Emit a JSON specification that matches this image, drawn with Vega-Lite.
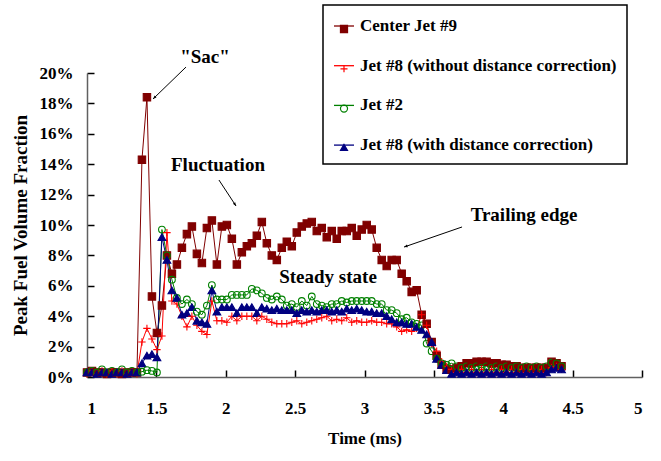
{
  "$schema": "https://vega.github.io/schema/vega-lite/v6.json",
  "width": 555,
  "height": 304,
  "autosize": {"type": "none"},
  "padding": {"left": 87, "top": 73, "right": 19, "bottom": 84},
  "background": "white",
  "config": {
    "font": "Liberation Serif",
    "view": {"stroke": null},
    "axis": {
      "grid": false,
      "ticks": true,
      "labelOverlap": false,
      "labelFont": "Liberation Serif",
      "labelFontSize": 17,
      "labelFontWeight": "bold",
      "labelColor": "black",
      "titleFont": "Liberation Serif",
      "titleFontSize": 17,
      "titleFontWeight": "bold",
      "titleColor": "black",
      "domainColor": "#606060",
      "domainWidth": 1.5,
      "tickColor": "black",
      "tickWidth": 1.5,
      "tickOpacity": 1
    },
    "axisX": {"titlePadding": 14, "labelOverlap": false},
    "axisY": {"titlePadding": 9, "titleFontSize": 19, "labelOverlap": false}
  },
  "datasets": {
    "jets": [
      {"t": 1.000, "C": 0.3, "R": 0.2, "G": 0.3, "B": 0.3},
      {"t": 1.036, "C": 0.4, "R": 0.4, "G": 0.4, "B": 0.3},
      {"t": 1.072, "C": 0.3, "R": 0.2, "G": 0.3, "B": 0.2},
      {"t": 1.108, "C": 0.3, "R": 0.4, "G": 0.5, "B": 0.3},
      {"t": 1.144, "C": 0.2, "R": 0.2, "G": 0.3, "B": 0.3},
      {"t": 1.180, "C": 0.3, "R": 0.4, "G": 0.4, "B": 0.2},
      {"t": 1.216, "C": 0.3, "R": 0.2, "G": 0.3, "B": 0.3},
      {"t": 1.252, "C": 0.2, "R": 0.4, "G": 0.5, "B": 0.3},
      {"t": 1.288, "C": 0.3, "R": 0.2, "G": 0.3, "B": 0.2},
      {"t": 1.324, "C": 0.3, "R": 0.4, "G": 0.4, "B": 0.3},
      {"t": 1.360, "C": 0.3, "R": 0.2, "G": 0.3, "B": 0.3},
      {"t": 1.396, "C": 14.3, "R": 2.3, "G": 0.35, "B": 0.9},
      {"t": 1.432, "C": 18.4, "R": 3.2, "G": 0.45, "B": 1.4},
      {"t": 1.468, "C": 5.3, "R": 2.5, "G": 0.4, "B": 1.5},
      {"t": 1.504, "C": 2.9, "R": 1.8, "G": 0.3, "B": 1.3},
      {"t": 1.540, "C": 4.7, "R": 2.7, "G": 9.7, "B": 9.2},
      {"t": 1.576, "C": 8.0, "R": 9.5, "G": 8.0, "B": 7.7},
      {"t": 1.612, "C": 6.8, "R": 5.0, "G": 6.4, "B": 5.7},
      {"t": 1.648, "C": 7.4, "R": 4.8, "G": 5.2, "B": 5.2},
      {"t": 1.684, "C": 8.5, "R": 4.0, "G": 4.8, "B": 4.1},
      {"t": 1.720, "C": 9.4, "R": 3.3, "G": 5.1, "B": 4.2},
      {"t": 1.756, "C": 9.9, "R": 4.0, "G": 4.8, "B": 4.6},
      {"t": 1.792, "C": 8.1, "R": 3.4, "G": 4.3, "B": 3.7},
      {"t": 1.828, "C": 7.5, "R": 3.0, "G": 4.1, "B": 3.6},
      {"t": 1.864, "C": 9.8, "R": 2.8, "G": 4.7, "B": 3.5},
      {"t": 1.900, "C": 10.3, "R": 5.0, "G": 6.05, "B": 5.7},
      {"t": 1.936, "C": 7.4, "R": 3.7, "G": 5.1, "B": 4.3},
      {"t": 1.972, "C": 9.9, "R": 3.7, "G": 5.1, "B": 4.6},
      {"t": 2.008, "C": 10.0, "R": 3.6, "G": 5.1, "B": 4.6},
      {"t": 2.044, "C": 9.1, "R": 4.0, "G": 5.4, "B": 4.6},
      {"t": 2.080, "C": 7.4, "R": 3.7, "G": 5.4, "B": 4.2},
      {"t": 2.116, "C": 8.2, "R": 4.0, "G": 5.4, "B": 4.6},
      {"t": 2.152, "C": 8.6, "R": 4.0, "G": 5.4, "B": 4.6},
      {"t": 2.188, "C": 8.8, "R": 4.0, "G": 5.8, "B": 4.6},
      {"t": 2.224, "C": 9.3, "R": 3.7, "G": 5.7, "B": 4.2},
      {"t": 2.260, "C": 10.2, "R": 4.0, "G": 5.5, "B": 4.6},
      {"t": 2.296, "C": 8.8, "R": 3.8, "G": 5.2, "B": 4.5},
      {"t": 2.332, "C": 8.0, "R": 3.6, "G": 5.1, "B": 4.4},
      {"t": 2.368, "C": 7.7, "R": 3.5, "G": 5.3, "B": 4.5},
      {"t": 2.404, "C": 8.5, "R": 3.5, "G": 5.1, "B": 4.4},
      {"t": 2.440, "C": 8.9, "R": 3.5, "G": 4.7, "B": 4.4},
      {"t": 2.476, "C": 8.6, "R": 3.6, "G": 4.8, "B": 4.4},
      {"t": 2.512, "C": 9.5, "R": 3.7, "G": 4.6, "B": 4.2},
      {"t": 2.548, "C": 9.9, "R": 3.5, "G": 5.0, "B": 4.4},
      {"t": 2.584, "C": 10.1, "R": 3.6, "G": 4.7, "B": 4.3},
      {"t": 2.620, "C": 10.2, "R": 3.7, "G": 5.3, "B": 4.4},
      {"t": 2.656, "C": 9.6, "R": 3.8, "G": 4.8, "B": 4.3},
      {"t": 2.692, "C": 9.8, "R": 3.9, "G": 4.7, "B": 4.4},
      {"t": 2.728, "C": 9.2, "R": 4.0, "G": 4.6, "B": 4.4},
      {"t": 2.764, "C": 9.6, "R": 3.7, "G": 4.8, "B": 4.3},
      {"t": 2.800, "C": 9.1, "R": 3.8, "G": 4.8, "B": 4.4},
      {"t": 2.836, "C": 9.6, "R": 3.7, "G": 5.0, "B": 4.3},
      {"t": 2.872, "C": 9.6, "R": 3.9, "G": 4.9, "B": 4.5},
      {"t": 2.908, "C": 9.8, "R": 3.6, "G": 5.0, "B": 4.4},
      {"t": 2.944, "C": 9.3, "R": 3.7, "G": 5.0, "B": 4.5},
      {"t": 2.980, "C": 9.7, "R": 3.6, "G": 5.0, "B": 4.4},
      {"t": 3.016, "C": 10.0, "R": 3.6, "G": 5.0, "B": 4.3},
      {"t": 3.052, "C": 9.7, "R": 3.7, "G": 5.0, "B": 4.3},
      {"t": 3.088, "C": 8.5, "R": 3.6, "G": 4.8, "B": 4.2},
      {"t": 3.124, "C": 7.7, "R": 3.6, "G": 4.8, "B": 4.2},
      {"t": 3.160, "C": 7.3, "R": 3.5, "G": 4.4, "B": 4.0},
      {"t": 3.196, "C": 7.7, "R": 3.5, "G": 4.4, "B": 3.8},
      {"t": 3.232, "C": 7.7, "R": 3.3, "G": 4.2, "B": 3.6},
      {"t": 3.268, "C": 6.8, "R": 3.0, "G": 3.8, "B": 3.6},
      {"t": 3.304, "C": 6.3, "R": 3.1, "G": 3.9, "B": 3.5},
      {"t": 3.340, "C": 5.6, "R": 3.0, "G": 3.6, "B": 3.5},
      {"t": 3.376, "C": 5.7, "R": 3.2, "G": 3.5, "B": 3.3},
      {"t": 3.412, "C": 4.1, "R": 4.1, "G": 3.4, "B": 3.1},
      {"t": 3.448, "C": 3.5, "R": 3.4, "G": 2.2, "B": 2.8},
      {"t": 3.484, "C": 2.3, "R": 2.2, "G": 1.7, "B": 2.3},
      {"t": 3.520, "C": 1.4, "R": 1.7, "G": 1.2, "B": 1.2},
      {"t": 3.556, "C": 0.8, "R": 1.0, "G": 0.9, "B": 0.8},
      {"t": 3.592, "C": 0.5, "R": 0.7, "G": 0.8, "B": 0.45},
      {"t": 3.628, "C": 0.5, "R": 0.5, "G": 0.9, "B": 0.2},
      {"t": 3.664, "C": 0.6, "R": 0.3, "G": 0.7, "B": 0.3},
      {"t": 3.700, "C": 0.7, "R": 0.5, "G": 0.6, "B": 0.2},
      {"t": 3.736, "C": 0.9, "R": 0.3, "G": 0.7, "B": 0.3},
      {"t": 3.772, "C": 0.9, "R": 0.5, "G": 0.6, "B": 0.2},
      {"t": 3.808, "C": 1.0, "R": 0.3, "G": 0.7, "B": 0.3},
      {"t": 3.844, "C": 1.0, "R": 0.5, "G": 0.6, "B": 0.2},
      {"t": 3.880, "C": 1.0, "R": 0.3, "G": 0.7, "B": 0.3},
      {"t": 3.916, "C": 0.9, "R": 0.5, "G": 0.6, "B": 0.2},
      {"t": 3.952, "C": 0.9, "R": 0.3, "G": 0.7, "B": 0.3},
      {"t": 3.988, "C": 0.8, "R": 0.5, "G": 0.6, "B": 0.2},
      {"t": 4.024, "C": 0.8, "R": 0.3, "G": 0.7, "B": 0.3},
      {"t": 4.060, "C": 0.7, "R": 0.5, "G": 0.6, "B": 0.2},
      {"t": 4.096, "C": 0.7, "R": 0.3, "G": 0.7, "B": 0.3},
      {"t": 4.132, "C": 0.6, "R": 0.5, "G": 0.6, "B": 0.2},
      {"t": 4.168, "C": 0.6, "R": 0.3, "G": 0.7, "B": 0.3},
      {"t": 4.204, "C": 0.6, "R": 0.5, "G": 0.6, "B": 0.2},
      {"t": 4.240, "C": 0.6, "R": 0.3, "G": 0.7, "B": 0.3},
      {"t": 4.276, "C": 0.6, "R": 0.5, "G": 0.6, "B": 0.2},
      {"t": 4.312, "C": 0.6, "R": 0.3, "G": 0.7, "B": 0.3},
      {"t": 4.348, "C": 1.0, "R": 0.6, "G": 0.95, "B": 0.5},
      {"t": 4.384, "C": 0.9, "R": 0.7, "G": 0.9, "B": 0.6},
      {"t": 4.420, "C": 0.7, "R": 0.5, "G": 0.7, "B": 0.5}
    ],
    "notes": [
      {"t": 1.85, "v": 21.05, "label": "\"Sac\""},
      {"t": 1.944, "v": 13.95, "label": "Fluctuation"},
      {"t": 2.737, "v": 6.58, "label": "Steady state"},
      {"t": 4.15, "v": 10.66, "label": "Trailing edge"}
    ],
    "arrows": [
      {"name": "sac", "t": 1.7135, "v": 20.39, "t2": 1.4757, "v2": 18.29},
      {"name": "fluct", "t": 1.951, "v": 12.96, "t2": 2.074, "v2": 11.25},
      {"name": "trail", "t": 3.703, "v": 9.87, "t2": 3.285, "v2": 8.55}
    ],
    "names": [
      {"key": "C", "series": "Center Jet #9"},
      {"key": "R", "series": "Jet #8 (without distance correction)"},
      {"key": "G", "series": "Jet #2"},
      {"key": "B", "series": "Jet #8 (with distance correction)"}
    ]
  },
  "layer": [
    {
      "data": {"name": "jets"},
      "transform": [
        {"fold": ["C", "R", "G", "B"], "as": ["key", "v"]},
        {"lookup": "key", "from": {"data": {"name": "names"}, "key": "key", "fields": ["series"]}}
      ],
      "layer": [
        {
          "mark": {"type": "line", "strokeWidth": 1},
          "encoding": {
            "x": {"field": "t", "type": "quantitative", "title": "Time (ms)",
              "scale": {"domain": [1, 5], "nice": false, "zero": false},
              "axis": {"values": [1, 1.5, 2, 2.5, 3, 3.5, 4, 4.5, 5], "labelExpr": "toString(datum.value)", "labelOverlap": false, "ticks": true, "tickSize": -7, "labelPadding": 30}},
            "y": {"field": "v", "type": "quantitative", "title": "Peak Fuel Volume Fraction",
              "scale": {"domain": [0, 20], "nice": false},
              "axis": {"values": [0, 2, 4, 6, 8, 10, 12, 14, 16, 18, 20], "labelExpr": "datum.value + '%'", "labelOverlap": false, "ticks": true, "tickSize": -7, "labelPadding": 21}},
            "stroke": {"field": "key", "type": "nominal",
              "scale": {"domain": ["C", "R", "G", "B"], "range": ["#800000", "#FF0000", "#008000", "#000080"]},
              "legend": {
                "title": null,
                "orient": "none",
                "legendX": 236,
                "legendY": -68,
                "fillColor": "white",
                "strokeColor": "black",
                "padding": 10,
                "rowPadding": 20.7,
                "symbolType": "stroke",
                "symbolSize": 400,
                "symbolStrokeWidth": 1.3,
                "labelFont": "Liberation Serif",
                "labelFontSize": 17,
                "labelFontWeight": "bold",
                "labelColor": "black",
                "labelOffset": 5,
                "labelLimit": 400,
                "labelExpr": "datum.value == 'C' ? 'Center Jet #9' : datum.value == 'R' ? 'Jet #8 (without distance correction)' : datum.value == 'G' ? 'Jet #2' : 'Jet #8 (with distance correction)'",
                "encode": {"legend": {"update": {"strokeWidth": {"value": 1.5}}}}
              }},
            "order": {"field": "t", "type": "quantitative"}
          }
        },
        {
          "mark": {"type": "point", "filled": false, "strokeWidth": 1.1, "opacity": 1},
          "encoding": {
            "x": {"field": "t", "type": "quantitative", "title": "Time (ms)", "scale": {"domain": [1, 5], "nice": false, "zero": false},
              "axis": {"values": [1, 1.5, 2, 2.5, 3, 3.5, 4, 4.5, 5], "labelExpr": "toString(datum.value)", "labelOverlap": false, "ticks": true, "tickSize": -7, "labelPadding": 30}},
            "y": {"field": "v", "type": "quantitative", "title": "Peak Fuel Volume Fraction", "scale": {"domain": [0, 20], "nice": false},
              "axis": {"values": [0, 2, 4, 6, 8, 10, 12, 14, 16, 18, 20], "labelExpr": "datum.value + '%'", "labelOverlap": false, "ticks": true, "tickSize": -7, "labelPadding": 21}},
            "color": {"field": "series", "type": "nominal",
              "scale": {"domain": ["Center Jet #9", "Jet #8 (without distance correction)", "Jet #2", "Jet #8 (with distance correction)"],
                        "range": ["#800000", "#FF0000", "#008000", "#000080"]},
              "legend": {
                "title": null,
                "orient": "none",
                "legendX": 252.5,
                "legendY": -48.5,
                "padding": 0,
                "rowPadding": 26.8,
                "symbolSize": 50,
                "symbolStrokeWidth": 1.2,
                "labelFontSize": 1,
                "labelExpr": "''",
                "labelOffset": 0,
                "encode": {
                  "symbols": {"update": {
                    "fill": {"signal": "datum.value == 'Center Jet #9' ? '#800000' : datum.value == 'Jet #8 (with distance correction)' ? '#000080' : 'white'"},
                    "opacity": {"value": 1}
                  }}
                }
              }},
            "shape": {"field": "series", "type": "nominal", "legend": null,
              "scale": {"domain": ["Center Jet #9", "Jet #8 (without distance correction)", "Jet #2", "Jet #8 (with distance correction)"],
                        "range": ["square", "M-1,0H1M0,-1V1", "circle", "triangle-up"]}},
            "fill": {"field": "series", "type": "nominal", "legend": null,
              "scale": {"domain": ["Center Jet #9", "Jet #8 (without distance correction)", "Jet #2", "Jet #8 (with distance correction)"],
                        "range": ["#800000", "transparent", "transparent", "#000080"]}},
            "size": {"field": "series", "type": "nominal", "legend": null,
              "scale": {"type": "ordinal", "domain": ["Center Jet #9", "Jet #8 (without distance correction)", "Jet #2", "Jet #8 (with distance correction)"],
                        "range": [55, 55, 45, 60]}}
          }
        }
      ]
    },
    {
      "data": {"name": "notes"},
      "mark": {"type": "text", "fontSize": 19, "fontWeight": "bold", "font": "Liberation Serif", "color": "black", "align": "center", "baseline": "middle"},
      "encoding": {
        "x": {"field": "t", "type": "quantitative", "title": "Time (ms)", "scale": {"domain": [1, 5], "nice": false, "zero": false},
          "axis": {"values": [1, 1.5, 2, 2.5, 3, 3.5, 4, 4.5, 5], "labelExpr": "toString(datum.value)", "labelOverlap": false, "ticks": true, "tickSize": -7, "labelPadding": 30}},
        "y": {"field": "v", "type": "quantitative", "title": "Peak Fuel Volume Fraction", "scale": {"domain": [0, 20], "nice": false},
          "axis": {"values": [0, 2, 4, 6, 8, 10, 12, 14, 16, 18, 20], "labelExpr": "datum.value + '%'", "labelOverlap": false, "ticks": true, "tickSize": -7, "labelPadding": 21}},
        "text": {"field": "label"}
      }
    },
    {
      "data": {"name": "arrows"},
      "mark": {"type": "rule", "color": "black", "strokeWidth": 1},
      "encoding": {
        "x": {"field": "t", "type": "quantitative", "title": "Time (ms)", "scale": {"domain": [1, 5], "nice": false, "zero": false},
          "axis": {"values": [1, 1.5, 2, 2.5, 3, 3.5, 4, 4.5, 5], "labelExpr": "toString(datum.value)", "labelOverlap": false, "ticks": true, "tickSize": -7, "labelPadding": 30}},
        "y": {"field": "v", "type": "quantitative", "title": "Peak Fuel Volume Fraction", "scale": {"domain": [0, 20], "nice": false},
          "axis": {"values": [0, 2, 4, 6, 8, 10, 12, 14, 16, 18, 20], "labelExpr": "datum.value + '%'", "labelOverlap": false, "ticks": true, "tickSize": -7, "labelPadding": 21}},
        "x2": {"field": "t2"},
        "y2": {"field": "v2"}
      }
    },
    {
      "data": {"name": "arrows"},
      "mark": {"type": "point", "filled": true, "color": "black", "opacity": 1, "shape": "M-0.5,1.3L0,0L0.5,1.3Z", "size": 30},
      "encoding": {
        "x": {"field": "t2", "type": "quantitative", "title": "Time (ms)", "scale": {"domain": [1, 5], "nice": false, "zero": false},
          "axis": {"values": [1, 1.5, 2, 2.5, 3, 3.5, 4, 4.5, 5], "labelExpr": "toString(datum.value)", "labelOverlap": false, "ticks": true, "tickSize": -7, "labelPadding": 30}},
        "y": {"field": "v2", "type": "quantitative", "title": "Peak Fuel Volume Fraction", "scale": {"domain": [0, 20], "nice": false},
          "axis": {"values": [0, 2, 4, 6, 8, 10, 12, 14, 16, 18, 20], "labelExpr": "datum.value + '%'", "labelOverlap": false, "ticks": true, "tickSize": -7, "labelPadding": 21}},
        "angle": {"field": "name", "type": "nominal", "legend": null,
          "scale": {"type": "ordinal", "domain": ["sac", "fluct", "trail"], "range": [226, 147, 251]}}
      }
    }
  ],
  "resolve": {"scale": {"size": "independent"}}
}
